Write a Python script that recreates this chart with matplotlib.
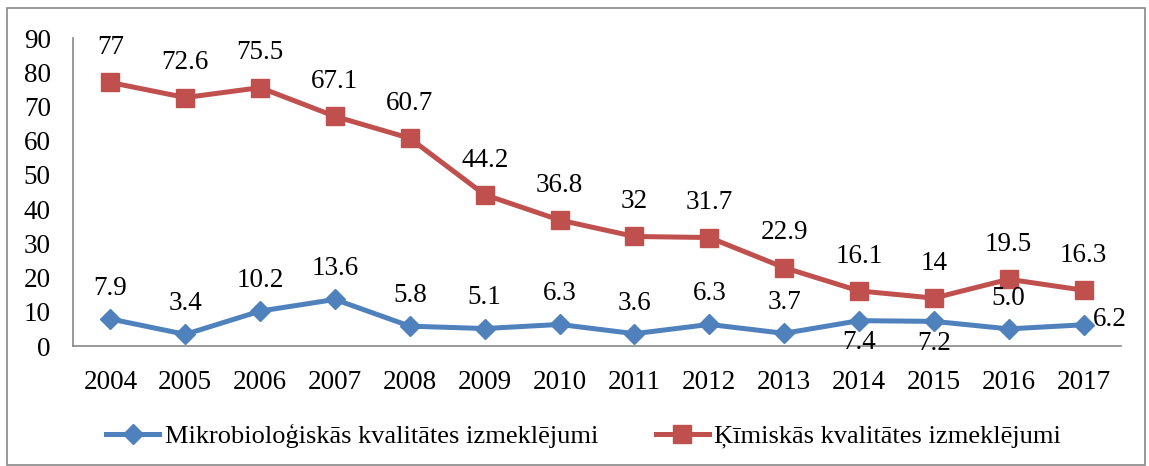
import matplotlib
matplotlib.use("Agg")
import matplotlib.pyplot as plt
from matplotlib.patches import Rectangle

years = ["2004", "2005", "2006", "2007", "2008", "2009", "2010", "2011", "2012", "2013", "2014", "2015", "2016", "2017"]
micro = [7.9, 3.4, 10.2, 13.6, 5.8, 5.1, 6.3, 3.6, 6.3, 3.7, 7.4, 7.2, 5.0, 6.2]
micro_labels = ["7.9", "3.4", "10.2", "13.6", "5.8", "5.1", "6.3", "3.6", "6.3", "3.7", "7.4", "7.2", "5.0", "6.2"]
chem = [77, 72.6, 75.5, 67.1, 60.7, 44.2, 36.8, 32, 31.7, 22.9, 16.1, 14, 19.5, 16.3]
chem_labels = ["77", "72.6", "75.5", "67.1", "60.7", "44.2", "36.8", "32", "31.7", "22.9", "16.1", "14", "19.5", "16.3"]
series_names = ["Mikrobioloģiskās kvalitātes izmeklējumi", "Ķīmiskās kvalitātes izmeklējumi"]

plt.rcParams['font.family'] = ['Liberation Serif', 'DejaVu Serif']
FS = 19.5
blue = "#4F81BD"
red = "#C0504D"

fig = plt.figure(figsize=(11.49, 4.66), dpi=100)
fig.patches.append(Rectangle((7/1149, 0.002), 1 - 11/1149, 1 - 8/466 - 0.002, transform=fig.transFigure,
                             fill=False, edgecolor="#888888", linewidth=1.2))
ax = fig.add_axes([73/1149, 1 - 346/466, (1121 - 73)/1149, (346 - 38)/466])

x = list(range(len(years)))
l1, = ax.plot(x, micro, color=blue, lw=3.6, marker="D", markersize=10, markeredgecolor=blue, label=series_names[0])
l2, = ax.plot(x, chem, color=red, lw=3.6, marker="s", markersize=13, markeredgecolor=red, label=series_names[1])

for i, (v, t) in enumerate(zip(chem, chem_labels)):
    ax.annotate(t, (i, v), xytext=(0, 25), textcoords="offset points", ha="center", va="center", fontsize=FS)
for i, (v, t) in enumerate(zip(micro, micro_labels)):
    if years[i] in ("2014", "2015"):
        off, ha = (0, -16), "center"
    elif years[i] == "2017":
        off, ha = (7, 4), "left"
    else:
        off, ha = (0, 22), "center"
    ax.annotate(t, (i, v), xytext=off, textcoords="offset points", ha=ha, va="center", fontsize=FS)

ax.set_xlim(-0.5, len(years) - 0.5)
ax.set_ylim(0, 90)
ax.set_yticks(range(0, 91, 10))
ax.set_xticks(x)
ax.set_xticklabels(years)
ax.tick_params(axis="both", length=0, labelsize=FS)
ax.tick_params(axis="x", pad=17)
ax.tick_params(axis="y", pad=16)
for s in ("top", "right"):
    ax.spines[s].set_visible(False)
for s in ("left", "bottom"):
    ax.spines[s].set_color("#888888")
    ax.spines[s].set_linewidth(1.2)

fig.legend(handles=[l1, l2], loc="center", bbox_to_anchor=(0.508, 1 - 436/466), ncol=2, frameon=False,
           fontsize=19, handlelength=2.0, columnspacing=2.2, handletextpad=0.2)

fig.savefig("out.png", dpi=100)
